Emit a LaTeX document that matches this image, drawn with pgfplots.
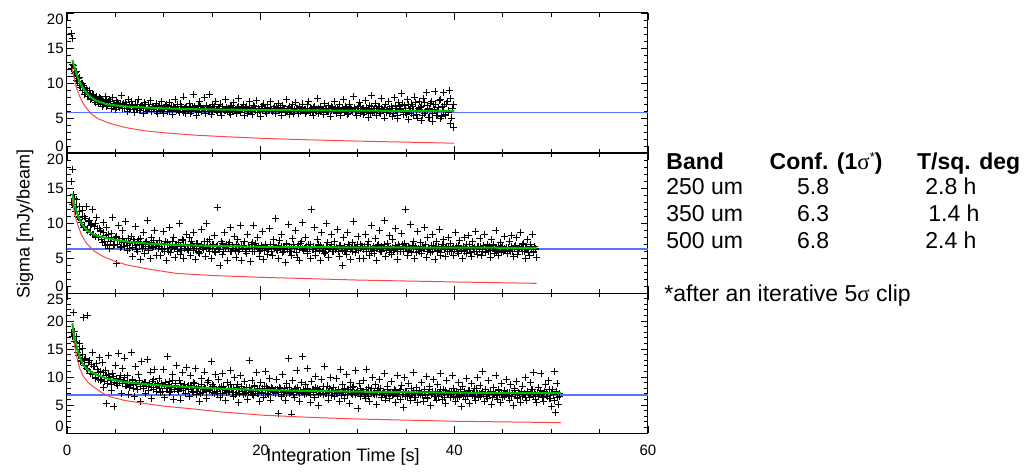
\documentclass[border=0pt]{standalone}
\usepackage{pgfplots}
\pgfplotsset{compat=1.18}
\usepackage{pgfplotstable}
\usepackage{fontspec}
\setmainfont{Liberation Sans}
\newfontfamily\seriffont{Liberation Serif}

\definecolor{fitgreen}{RGB}{0,190,0}
\definecolor{noisered}{RGB}{255,70,70}
\definecolor{confblue}{RGB}{85,115,255}

\pgfplotstableread{
x y1 y2 y3
0.45 17.1 16.0 nan
0.60 16.3 17.7 nan
0.50 12.1 13.0 17.9
0.65 12.5 14.1 21.6
0.80 11.0 12.2 16.3
0.95 11.6 13.3 17.2
1.10 10.2 10.9 14.4
1.25 10.8 12.4 16.0
1.40 9.3 10.1 12.8
1.55 9.9 11.8 15.1
1.70 9.6 9.4 20.6
1.85 8.4 11.0 13.2
2.00 9.2 12.3 11.5
2.15 8.1 8.9 21.0
2.30 8.9 10.4 12.9
2.45 7.6 9.6 10.6
2.60 8.4 11.9 14.3
2.75 8.3 8.3 11.8
2.90 7.2 9.9 9.7
3.05 8.1 10.8 12.4
3.20 7.0 7.9 10.9
3.35 7.9 9.2 13.5
3.50 7.8 8.8 9.4
3.65 6.7 7.2 12.6
3.80 7.4 10.1 8.2
3.95 8.1 6.8 11.1
4.10 6.6 9.3 5.3
4.25 7.3 7.9 13.8
4.40 7.6 6.3 9.9
4.55 6.4 8.5 7.6
4.70 7.9 10.8 10.7
4.85 6.8 7.0 4.8
5.00 6.2 8.0 12.1
5.15 7.5 4.2 8.8
5.30 7.1 9.6 14.2
5.45 6.5 7.5 9.2
5.60 8.2 6.6 7.1
5.75 6.9 8.9 11.5
5.90 6.3 7.3 13.4
6.05 7.2 10.2 8.4
6.20 5.9 6.1 10.2
6.35 7.6 7.8 6.9
6.50 6.2 6.4 8.1
6.65 7.3 8.1 14.4
6.80 6.8 5.2 9.6
6.95 5.8 7.4 6.6
7.10 7.0 9.5 11.9
7.25 6.4 6.0 7.8
7.40 7.7 7.7 10.4
7.55 6.1 4.8 5.6
7.70 6.6 6.9 12.8
7.85 5.7 8.6 8.7
8.00 7.2 5.6 9.1
8.15 6.9 7.2 7.0
8.30 6.0 10.3 13.2
8.45 6.5 6.3 8.3
8.60 7.5 5.0 10.9
8.75 5.9 7.9 6.2
8.90 6.7 6.7 9.5
9.05 6.3 9.0 11.4
9.20 7.1 5.4 7.4
9.35 5.6 7.1 8.9
9.50 6.8 7.5 9.8
9.65 6.1 5.3 7.2
9.80 7.4 6.4 8.6
9.95 5.6 8.8 11.3
10.10 6.5 6.0 6.4
10.25 6.9 4.6 8.0
10.40 5.9 7.2 13.6
10.55 7.2 9.4 9.2
10.70 6.3 5.8 7.5
10.85 5.5 6.6 10.5
11.00 6.7 8.0 6.0
11.15 7.6 5.1 8.8
11.30 6.0 7.0 12.1
11.45 6.4 6.2 7.7
11.60 5.8 9.9 9.4
11.75 7.0 5.5 5.9
11.90 6.2 7.6 10.8
12.05 8.0 4.9 8.2
12.20 5.7 6.8 7.0
12.35 6.6 8.3 11.7
12.50 6.0 6.1 8.4
12.65 7.1 7.9 6.6
12.80 5.6 5.4 10.2
12.95 6.5 6.8 7.5
13.10 8.3 8.7 9.0
13.25 6.2 4.8 11.6
13.40 5.4 7.1 6.9
13.55 6.8 6.0 8.2
13.70 7.4 5.6 5.6
13.85 5.9 9.1 9.7
14.00 6.3 6.5 7.3
14.15 7.9 7.4 10.9
14.30 5.7 5.2 8.0
14.45 6.6 10.0 6.2
14.60 6.0 6.3 9.3
14.75 8.4 7.7 7.8
14.90 5.5 4.9 12.7
15.05 6.9 6.9 8.6
15.20 6.2 8.2 7.0
15.35 7.3 5.8 10.4
15.50 5.8 12.2 7.1
15.65 6.4 6.2 9.5
15.80 7.0 3.9 6.3
15.95 5.3 7.3 8.3
16.10 6.7 5.5 10.7
16.25 6.1 8.6 7.7
16.40 7.6 6.7 5.8
16.55 5.9 4.7 9.0
16.70 6.3 7.0 7.4
16.85 5.5 9.3 11.2
17.00 6.8 5.9 8.0
17.15 7.2 6.4 6.5
17.30 6.0 8.1 9.9
17.45 5.6 5.1 7.2
17.60 6.5 7.6 8.6
17.75 7.8 6.0 5.5
17.90 5.8 9.7 10.3
18.05 6.2 4.6 7.9
18.20 6.9 6.8 6.8
18.35 5.4 7.4 9.2
18.50 6.6 5.7 8.1
18.65 5.7 8.4 6.0
18.80 7.3 6.3 12.9
18.95 6.0 4.5 7.6
19.10 5.5 7.2 9.4
19.25 6.8 9.6 6.7
19.40 6.3 5.9 8.5
19.55 7.5 6.7 10.8
19.70 5.8 7.9 7.1
19.85 6.1 5.2 5.7
20.00 5.2 6.1 9.1
20.15 6.7 8.8 7.9
20.30 7.0 4.8 6.4
20.45 6.4 7.0 11.0
20.60 5.6 6.4 8.3
20.75 6.9 5.5 7.0
20.90 6.0 9.2 9.8
21.05 7.4 6.9 5.9
21.20 5.9 5.3 8.0
21.35 6.3 7.6 7.4
21.50 5.7 10.6 7.8
21.65 6.5 6.2 9.6
21.80 7.1 5.0 3.5
21.95 6.0 7.5 8.2
22.10 5.4 8.3 6.6
22.25 6.8 5.8 10.4
22.40 6.2 6.6 7.3
22.55 5.8 4.4 5.8
22.70 7.6 7.1 8.9
22.85 6.4 9.8 13.3
23.00 5.5 6.0 7.0
23.15 6.1 5.4 3.4
23.30 6.9 7.8 9.3
23.45 5.9 6.5 6.4
23.60 7.2 8.9 8.0
23.75 6.3 5.1 11.1
23.90 5.6 6.9 7.5
24.05 6.6 4.7 5.6
24.20 6.0 7.3 9.0
24.35 7.0 10.1 13.7
24.50 6.2 6.4 6.9
24.65 5.6 8.0 8.7
24.80 6.9 5.6 11.6
24.95 7.4 7.0 7.2
25.10 5.8 4.9 5.4
25.25 6.3 12.0 9.2
25.40 5.3 6.2 7.7
25.55 6.7 9.4 6.3
25.70 6.0 5.3 10.1
25.85 7.8 7.7 8.0
26.00 5.7 6.8 4.9
26.15 6.5 4.6 7.5
26.30 6.1 8.6 9.6
26.45 5.5 6.0 6.8
26.60 7.1 5.7 11.9
26.75 6.4 9.9 7.1
26.90 5.9 7.2 8.4
27.05 6.8 5.1 5.9
27.20 5.2 6.5 9.9
27.35 6.6 8.3 7.4
27.50 6.0 5.9 8.2
27.65 7.3 7.4 6.5
27.80 5.7 6.3 9.8
27.95 6.4 9.1 7.0
28.10 6.9 5.2 5.7
28.25 5.4 6.8 11.3
28.40 6.2 3.9 8.6
28.55 7.7 7.9 7.4
28.70 5.8 6.1 6.1
28.85 6.5 5.5 10.5
29.00 5.5 8.7 7.8
29.15 7.0 6.6 5.3
29.30 6.3 4.8 9.1
29.45 5.9 7.2 6.9
29.60 8.1 10.2 8.3
29.75 6.1 5.8 11.2
29.90 5.3 6.4 7.2
30.05 6.7 8.1 4.4
30.20 7.2 5.0 8.9
30.35 5.6 7.0 6.6
30.50 6.4 6.7 7.5
30.65 5.5 4.9 9.4
30.80 7.5 8.4 6.2
30.95 6.0 6.0 11.4
31.10 5.1 7.3 8.1
31.25 6.8 5.4 5.6
31.40 8.2 9.6 7.3
31.55 5.8 6.3 10.0
31.70 6.3 5.7 6.8
31.85 7.1 7.8 8.7
32.00 5.4 4.6 5.1
32.15 6.6 6.9 7.9
32.30 5.9 8.9 9.6
32.45 7.8 5.9 6.4
32.60 6.2 6.4 7.1
32.75 5.0 10.3 10.6
32.90 6.9 5.2 5.9
33.05 6.1 7.1 8.4
33.20 7.4 6.6 7.0
33.35 5.6 8.2 6.1
33.50 6.7 5.5 9.2
33.65 5.2 7.6 6.7
33.80 7.9 6.2 7.8
33.95 6.0 9.2 5.4
34.10 4.9 4.8 10.3
34.25 7.2 6.9 7.2
34.40 6.4 5.9 6.0
34.55 8.5 8.5 8.5
34.70 5.5 6.4 4.6
34.85 6.8 7.1 9.9
35.00 5.8 11.9 7.4
35.15 7.6 5.3 6.5
35.30 4.8 6.7 8.8
35.45 6.3 9.8 5.8
35.60 7.0 5.8 7.0
35.75 5.4 7.4 10.8
35.90 8.0 4.9 6.3
36.05 6.1 6.3 8.1
36.20 5.0 8.8 5.5
36.35 7.3 6.0 7.6
36.50 6.5 7.2 6.8
36.65 4.7 5.6 9.0
36.80 7.8 6.5 5.7
36.95 5.6 9.4 7.7
37.10 8.6 5.1 10.1
37.25 6.2 7.9 6.2
37.40 5.1 6.2 8.3
37.55 7.1 5.8 4.9
37.70 4.5 8.3 7.4
37.85 6.9 6.8 9.5
38.00 8.8 4.8 6.6
38.15 5.4 7.4 5.9
38.30 6.0 6.0 8.6
38.45 7.5 9.1 7.1
38.60 4.9 5.4 10.7
38.75 6.6 6.9 6.0
38.90 8.7 7.7 7.8
39.05 5.3 5.2 5.2
39.20 7.0 6.6 9.3
39.35 5.8 8.0 6.9
39.50 8.9 5.9 7.5
39.65 4.2 7.1 6.3
39.80 6.4 6.4 10.3
39.95 3.6 5.3 8.0
40.10 nan 8.6 5.6
40.25 nan 6.7 7.2
40.40 nan 5.7 9.1
40.55 nan 7.5 6.5
40.70 nan 6.1 4.8
40.85 nan 4.9 8.4
41.00 nan 7.9 7.0
41.15 nan 6.3 6.0
41.30 nan 5.6 9.7
41.45 nan 8.2 7.6
41.60 nan 6.9 5.3
41.75 nan 5.2 8.8
41.90 nan 7.3 6.7
42.05 nan 6.0 7.9
42.20 nan 8.8 5.8
42.35 nan 5.5 10.0
42.50 nan 6.6 6.4
42.65 nan 7.8 8.5
42.80 nan 5.4 7.1
42.95 nan 6.2 11.0
43.10 nan 8.4 5.7
43.25 nan 5.8 7.8
43.40 nan 7.0 6.2
43.55 nan 6.4 9.4
43.70 nan 5.1 7.4
43.85 nan 7.6 5.1
44.00 nan 6.8 8.2
44.15 nan 5.6 6.8
44.30 nan 8.9 10.2
44.45 nan 6.1 6.0
44.60 nan 5.3 7.6
44.75 nan 7.2 5.4
44.90 nan 6.5 8.9
45.05 nan 5.9 7.0
45.20 nan 8.1 6.5
45.35 nan 6.3 9.6
45.50 nan 5.7 7.3
45.65 nan 7.4 5.9
45.80 nan 6.0 8.7
45.95 nan 8.2 6.6
46.10 nan 5.2 4.9
46.25 nan 6.7 7.9
46.40 nan 7.9 9.2
46.55 nan 5.5 6.1
46.70 nan 6.3 7.1
46.85 nan 8.6 5.5
47.00 nan 5.9 8.4
47.15 nan 7.1 6.9
47.30 nan 4.9 10.0
47.45 nan 6.5 5.8
47.60 nan 7.7 7.5
47.75 nan 5.4 6.3
47.90 nan 6.9 9.0
48.05 nan 8.3 7.7
48.20 nan 5.8 10.8
48.35 nan 6.2 6.0
48.50 nan 5.1 5.4
48.65 nan nan 8.1
48.80 nan nan 7.0
48.95 nan nan 10.6
49.10 nan nan 6.4
49.25 nan nan 5.6
49.40 nan nan 8.6
49.55 nan nan 7.2
49.70 nan nan 9.3
49.85 nan nan 6.1
50.00 nan nan 4.7
50.15 nan nan 7.8
50.30 nan nan 11.0
50.45 nan nan 3.6
50.60 nan nan 8.8
50.75 nan nan 5.1
50.90 nan nan 6.6
}\datatable

\pgfplotstableread{
x y1 y2 y3
0.575 12.6 12.6 17.2
0.725 11.4 13.5 18.1
0.875 11.5 11.6 15.4
1.025 10.3 12.4 16.2
1.175 10.6 10.8 13.9
1.325 9.6 11.7 15.0
1.475 9.9 10.1 12.9
1.625 8.9 11.0 14.1
1.775 9.3 9.5 12.1
1.925 8.6 10.6 13.4
2.075 8.9 9.1 11.3
2.225 8.1 10.2 12.6
2.375 8.5 8.7 10.7
2.525 7.8 9.8 12.2
2.675 8.2 8.4 10.4
2.825 7.5 9.5 11.8
2.975 7.9 8.1 10.0
3.125 7.3 9.2 11.4
3.275 7.7 7.9 9.6
3.425 7.1 8.9 11.0
3.575 7.6 7.7 9.6
3.725 6.9 8.6 10.8
3.875 7.2 7.4 9.2
4.025 7.5 8.2 10.3
4.175 6.8 7.0 8.9
4.325 7.0 8.4 10.5
4.475 7.3 7.3 9.4
4.625 6.6 7.9 8.7
4.775 7.1 6.8 10.1
4.925 6.9 7.6 9.0
5.075 6.5 8.1 9.8
5.225 7.2 6.9 8.5
5.375 6.7 7.5 9.5
5.525 7.0 6.5 10.2
5.675 6.4 7.8 8.8
5.825 7.1 7.2 9.3
5.975 6.6 6.7 9.9
6.125 6.9 7.4 8.4
6.275 6.3 6.8 9.1
6.425 6.8 7.1 8.6
6.575 6.5 7.2 8.5
6.725 6.9 6.5 9.4
6.875 6.2 7.6 8.0
7.025 6.7 6.8 9.1
7.175 6.4 6.2 8.6
7.325 7.0 7.3 7.7
7.475 6.1 6.9 9.3
7.625 6.6 7.8 8.3
7.775 6.8 6.4 8.8
7.925 6.3 7.0 7.9
8.075 6.5 6.7 9.0
8.225 6.0 7.4 8.4
8.375 6.9 6.1 7.6
8.525 6.4 6.9 8.9
8.675 6.2 7.2 8.2
8.825 6.7 6.5 9.2
8.975 6.3 7.5 7.8
9.125 6.6 6.6 8.7
9.275 5.9 7.0 8.1
9.425 6.5 6.3 8.5
9.575 6.3 6.6 8.0
9.725 6.6 7.1 8.8
9.875 6.0 6.2 7.5
10.025 6.5 6.9 8.4
10.175 6.8 7.4 9.1
10.325 6.2 6.4 7.9
10.475 6.4 6.0 8.6
10.625 5.9 7.0 7.3
10.775 6.7 6.5 8.2
10.925 6.1 7.3 9.3
11.075 6.5 6.3 7.7
11.225 6.3 6.8 8.5
11.375 6.9 5.9 8.0
11.525 6.0 7.2 7.4
11.675 6.4 6.6 8.9
11.825 6.6 6.1 8.1
11.975 5.8 7.5 7.6
12.125 6.3 6.4 8.7
12.275 6.5 6.9 7.9
12.425 6.1 6.2 8.3
12.575 6.2 6.3 7.7
12.725 6.5 6.9 8.5
12.875 5.9 7.3 8.1
13.025 6.4 6.1 7.3
13.175 6.7 6.7 8.8
13.325 6.1 6.4 7.9
13.475 6.3 7.1 7.5
13.625 5.8 5.8 8.3
13.775 6.6 6.6 7.0
13.925 6.2 7.0 8.6
14.075 6.4 6.2 7.8
14.225 6.0 6.8 8.2
14.375 6.8 6.5 7.4
14.525 6.3 7.4 9.0
14.675 5.9 6.0 7.6
14.825 6.5 6.7 8.0
14.975 6.1 6.3 7.2
15.125 6.4 6.9 8.4
15.275 6.7 5.9 7.9
15.425 6.0 6.6 7.5
15.575 6.1 6.8 7.4
15.725 6.4 6.2 8.1
15.875 5.9 6.6 7.8
16.025 6.6 7.1 7.1
16.175 6.2 6.0 8.4
16.325 6.0 6.5 7.6
16.475 6.5 6.9 7.2
16.625 6.3 6.3 8.0
16.775 5.8 7.2 7.5
16.925 6.7 5.9 8.6
17.075 6.1 6.7 7.3
17.225 6.4 6.4 7.9
17.375 6.2 6.1 6.9
17.525 5.9 7.0 8.2
17.675 6.6 6.6 7.7
17.825 6.0 6.2 7.0
17.975 6.3 6.8 8.3
18.125 6.5 6.4 7.4
18.275 6.1 7.3 7.8
18.425 6.4 6.0 7.1
18.575 6.3 6.2 7.8
18.725 6.0 6.7 7.2
18.875 6.5 6.4 8.1
19.025 5.9 6.9 7.5
19.175 6.2 6.0 6.9
19.325 6.6 6.5 8.3
19.475 6.1 7.1 7.4
19.625 5.8 6.3 7.7
19.775 6.4 6.6 7.0
19.925 6.2 5.9 8.0
20.075 6.7 6.8 7.3
20.225 6.0 6.4 7.6
20.375 6.3 6.1 8.4
20.525 5.9 7.0 7.1
20.675 6.5 6.5 7.9
20.825 6.1 6.2 6.8
20.975 6.4 6.7 7.5
21.125 6.0 6.0 8.2
21.275 6.2 6.9 7.3
21.425 6.6 6.4 7.6
21.575 6.0 6.5 7.1
21.725 6.3 6.1 7.7
21.875 6.1 6.8 7.3
22.025 6.5 6.3 8.0
22.175 5.8 6.6 6.8
22.325 6.2 5.9 7.5
22.475 6.4 6.4 7.9
22.625 5.9 7.0 7.0
22.775 6.1 6.2 7.6
22.925 6.6 6.7 8.2
23.075 6.0 6.0 7.2
23.225 6.3 6.5 7.4
23.375 5.7 6.9 6.9
23.525 6.2 6.3 7.8
23.675 6.4 5.8 7.3
23.825 6.0 6.6 8.1
23.975 6.5 6.2 7.0
24.125 5.9 7.1 7.6
24.275 6.2 6.4 7.2
24.425 6.1 6.1 7.7
24.575 6.2 6.3 7.6
24.725 5.9 6.7 7.0
24.875 6.4 6.0 7.9
25.025 6.0 6.5 7.3
25.175 6.3 6.9 6.8
25.325 5.8 6.2 7.7
25.475 6.5 6.6 7.2
25.625 6.1 5.9 8.1
25.775 5.9 6.4 7.4
25.925 6.3 7.0 6.9
26.075 6.0 6.1 7.8
26.225 6.6 6.8 7.1
26.375 6.2 6.3 7.5
26.525 5.8 6.5 8.3
26.675 6.4 5.8 7.0
26.825 6.1 6.7 7.6
26.975 5.9 6.2 7.2
27.125 6.3 6.4 7.9
27.275 6.0 6.9 6.7
27.425 6.5 6.0 7.4
27.575 6.1 6.6 7.1
27.725 6.4 6.2 7.6
27.875 5.8 6.5 7.0
28.025 6.2 6.0 7.8
28.175 6.5 6.8 7.3
28.325 6.0 6.3 6.7
28.475 6.3 6.1 7.5
28.625 5.9 6.7 8.0
28.775 6.6 5.9 7.2
28.925 6.1 6.4 6.9
29.075 5.7 6.9 7.7
29.225 6.4 6.2 7.4
29.375 6.2 6.5 7.0
29.525 6.0 6.0 8.1
29.675 6.5 6.6 7.3
29.825 5.9 6.3 6.8
29.975 6.3 7.0 7.6
30.125 6.1 6.1 7.1
30.275 6.7 6.4 7.9
30.425 6.0 6.7 7.2
30.575 6.3 6.2 7.4
30.725 5.8 6.6 6.9
30.875 6.5 6.0 7.7
31.025 6.0 6.9 7.1
31.175 6.2 6.3 6.6
31.325 5.7 6.5 7.5
31.475 6.6 5.9 7.9
31.625 6.1 6.7 7.0
31.775 5.9 6.1 7.3
31.925 6.4 6.4 6.8
32.075 6.0 6.8 7.6
32.225 6.7 6.2 7.2
32.375 5.6 6.0 8.0
32.525 6.3 6.6 6.9
32.675 6.1 6.3 7.4
32.825 6.5 7.0 7.1
32.975 5.8 6.1 6.7
33.125 6.2 6.5 7.8
33.275 6.4 5.8 7.2
33.425 5.9 6.4 7.0
33.575 6.4 6.5 7.3
33.725 5.6 6.1 6.8
33.875 6.8 6.8 7.6
34.025 6.0 6.3 7.0
34.175 5.4 6.0 6.5
34.325 6.6 6.6 7.4
34.475 6.2 6.2 7.8
34.625 7.0 6.9 6.9
34.775 5.8 5.9 7.2
34.925 6.3 6.4 6.6
35.075 5.5 6.7 7.5
35.225 6.9 6.1 7.1
35.375 6.1 6.5 6.7
35.525 5.7 6.0 7.9
35.675 6.7 6.8 7.0
35.825 6.0 6.3 7.3
35.975 7.2 6.6 6.4
36.125 5.5 5.8 7.6
36.275 6.4 6.4 7.0
36.425 6.2 6.2 7.2
36.575 6.6 6.1 7.2
36.725 5.3 6.6 6.7
36.875 7.2 6.3 7.5
37.025 5.9 6.9 6.9
37.175 6.8 5.9 6.4
37.325 5.1 6.5 7.3
37.475 6.4 6.2 7.7
37.625 7.4 6.8 6.8
37.775 5.6 6.0 7.1
37.925 6.2 6.4 6.5
38.075 7.0 6.7 7.4
38.225 5.4 6.1 7.0
38.375 6.5 6.6 6.6
38.525 7.6 5.8 7.8
38.675 5.2 6.3 6.9
38.825 6.1 6.9 7.2
38.975 6.9 6.2 6.3
39.125 5.5 6.5 7.6
39.275 7.3 6.0 7.0
39.425 6.0 6.7 6.8
39.575 7.8 6.4 6.8
39.725 5.0 6.0 7.3
39.875 6.9 6.7 6.6
40.025 nan 6.2 7.5
40.175 nan 6.5 7.0
40.325 nan 5.9 6.4
40.475 nan 6.8 7.2
40.625 nan 6.3 7.7
40.775 nan 6.1 6.9
40.925 nan 6.6 6.7
41.075 nan 6.0 7.4
41.225 nan 6.9 7.1
41.375 nan 6.2 6.5
41.525 nan 6.4 7.6
41.675 nan 5.8 7.0
41.825 nan 6.7 6.8
41.975 nan 6.3 7.3
42.125 nan 6.5 6.6
42.275 nan 6.0 7.9
42.425 nan 6.6 7.1
42.575 nan 6.2 7.1
42.725 nan 6.6 6.6
42.875 nan 6.0 7.4
43.025 nan 6.8 6.9
43.175 nan 6.3 7.7
43.325 nan 6.5 6.5
43.475 nan 5.9 7.2
43.625 nan 6.7 6.8
43.775 nan 6.1 7.5
43.925 nan 6.4 6.3
44.075 nan 6.9 7.0
44.225 nan 6.2 7.3
44.375 nan 6.0 6.7
44.525 nan 6.6 7.8
44.675 nan 6.3 6.9
44.825 nan 5.8 7.1
44.975 nan 6.7 6.4
45.125 nan 6.4 7.6
45.275 nan 6.1 7.0
45.425 nan 6.5 6.8
45.575 nan 6.5 6.7
45.725 nan 6.1 7.3
45.875 nan 6.7 6.5
46.025 nan 6.0 7.0
46.175 nan 6.4 7.6
46.325 nan 6.8 6.8
46.475 nan 6.2 6.4
46.625 nan 5.9 7.2
46.775 nan 6.6 6.9
46.925 nan 6.3 7.5
47.075 nan 6.9 6.6
47.225 nan 6.0 7.1
47.375 nan 6.5 6.3
47.525 nan 6.2 7.4
47.675 nan 5.8 6.8
47.825 nan 6.7 7.0
47.975 nan 6.4 7.7
48.125 nan 6.0 6.6
48.275 nan 6.6 7.2
48.425 nan 6.3 6.9
48.575 nan nan 7.2
48.725 nan nan 6.5
48.875 nan nan 7.6
49.025 nan nan 6.8
49.175 nan nan 6.3
49.325 nan nan 7.4
49.475 nan nan 7.0
49.625 nan nan 6.6
49.775 nan nan 7.8
49.925 nan nan 6.2
50.075 nan nan 7.3
50.225 nan nan 6.9
50.375 nan nan 5.8
50.525 nan nan 7.5
50.675 nan nan 6.4
50.825 nan nan 7.1
}\datatableb

\pgfplotsset{
  panel/.style={
    scale only axis, width=290.5pt, height=70pt,
    anchor=north west,
    xmin=0, xmax=60, xtick={0,20,40,60}, minor x tick num=3,
    minor y tick num=4,
    tick align=inside,
    major tick length=3.5pt, minor tick length=2pt,
    axis line style={line width=0.5pt},
    every tick/.style={black, line width=0.4pt},
    tick label style={font=\fontsize{7.5}{9}\selectfont, black},
    yticklabel style={inner sep=1.5pt},
    xticklabel style={yshift=-2.5pt},
    /pgf/number format/assume math mode=true,
    clip marker paths=true,
  },
  dat/.style={only marks, mark=+, mark size=1.75pt, black, mark options={line width=0.45pt}},
  conf/.style={confblue, line width=0.6pt},
  inst/.style={noisered, line width=0.5pt},
  fit/.style={fitgreen, line width=1pt},
}

\begin{document}
\begin{tikzpicture}[x=1pt,y=1pt]
\useasboundingbox (0,0) rectangle (512,236);

% 250 um
\begin{axis}[panel, at={(33.5pt,229.5pt)}, ymin=0, ymax=20, ytick={0,5,10,15,20},
  yticklabels={{\raisebox{0.8pt}[0pt][0pt]{0}},5,10,15,{\raisebox{-5.7pt}[0pt][0pt]{20}}},
  xticklabels={}]
\addplot[conf] coordinates {(0,5.8) (60,5.8)};
\addplot[dat] table[x=x, y=y1] {\datatable};
\addplot[dat] table[x=x, y=y1] {\datatableb};
\addplot[inst] coordinates {(0.55,12.1)(0.7,11.0)(0.85,10.0)(1.0,9.2)(1.34,8.0)(1.7,7.0)(2.4,5.7)(3.2,4.9)(4.4,4.24)(6,3.65)(7.9,3.19)(10,2.9)(13,2.57)(16,2.35)(20,2.1)(25,1.88)(30,1.7)(35,1.55)(40,1.4)};
\addplot[fit] coordinates {(0.55,13.3)(0.7,12.6)(0.85,11.9)(1.0,11.2)(1.2,10.5)(1.5,9.6)(2.0,8.6)(2.5,7.9)(3.0,7.5)(4.0,7.0)(5.0,6.8)(6.5,6.6)(8,6.5)(10,6.38)(13,6.26)(16,6.2)(20,6.14)(25,6.09)(30,6.05)(35,6.02)(40,6.0)};
\end{axis}

% 350 um
\begin{axis}[panel, at={(33.5pt,159.5pt)}, ymin=0, ymax=20, ytick={0,5,10,15,20},
  yticklabels={{\raisebox{0.8pt}[0pt][0pt]{0}},5,10,15,{\raisebox{-5.7pt}[0pt][0pt]{20}}},
  xticklabels={}]
\addplot[conf] coordinates {(0,6.3) (60,6.3)};
\addplot[dat] table[x=x, y=y2] {\datatable};
\addplot[dat] table[x=x, y=y2] {\datatableb};
\addplot[inst] coordinates {(0.55,13.3)(0.8,11.2)(1.17,9.5)(1.5,8.3)(2.0,7.1)(2.8,6.0)(3.75,5.2)(5,4.5)(6.2,4.0)(8.5,3.4)(11.3,2.8)(15,2.5)(20,2.24)(25,2.05)(30,1.85)(40,1.58)(48.5,1.38)};
\addplot[fit] coordinates {(0.55,14.2)(0.8,12.4)(1.17,10.9)(1.5,9.9)(2.0,9.0)(2.8,8.3)(3.75,7.95)(5,7.6)(6.2,7.33)(8.5,7.05)(11.3,6.86)(15,6.72)(20,6.6)(25,6.55)(30,6.52)(40,6.48)(48.5,6.45)};
\end{axis}

% 500 um
\begin{axis}[panel, at={(33.5pt,89.5pt)}, ymin=0, ymax=25, ytick={0,5,10,15,20,25},
  yticklabels={{\raisebox{0.8pt}[0pt][0pt]{0}},5,10,15,20,{\raisebox{-5.7pt}[0pt][0pt]{25}}},
  xlabel={Integration Time [s]},
  xlabel style={at={(rel axis cs:0.475,0)}, anchor=center, yshift=-12pt, font=\fontsize{9}{11}\selectfont}]
\addplot[conf] coordinates {(0,6.8) (60,6.8)};
\addplot[dat] table[x=x, y=y3] {\datatable};
\addplot[dat] table[x=x, y=y3] {\datatableb};
\addplot[inst] coordinates {(0.55,19.0)(0.75,16.0)(1.0,13.6)(1.3,11.6)(1.7,10.1)(2.2,9.0)(2.7,8.3)(3.5,7.3)(4.4,6.5)(6,5.8)(7.9,5.3)(10,4.8)(13,4.3)(16,3.75)(20,3.2)(25,2.8)(30,2.5)(40,2.1)(51,1.85)};
\addplot[fit] coordinates {(0.55,19.6)(0.75,17.3)(1.0,15.4)(1.3,13.6)(1.7,12.1)(2.2,11.2)(2.7,10.7)(3.5,10.1)(4.4,9.6)(6,9.1)(7.9,8.75)(10,8.45)(13,8.15)(16,7.9)(20,7.7)(25,7.5)(30,7.38)(40,7.2)(51,7.1)};
\end{axis}

\node[rotate=90, font=\fontsize{9}{11}\selectfont] at (12.5,124) {Sigma [mJy/beam]};

\begin{scope}[every node/.style={anchor=base west, inner sep=0pt, font=\fontsize{11.5}{13}\selectfont}]
\node[font=\fontsize{11.5}{13}\selectfont\bfseries] at (333,151.35) {Band};
\node[font=\fontsize{11.5}{13}\selectfont\bfseries] at (384.65,151.35) {Conf. (1{\seriffont\mdseries σ}\raisebox{0.35em}{\fontsize{6.5}{7}\selectfont\mdseries *})};
\node[font=\fontsize{11.5}{13}\selectfont\bfseries] at (458.35,151.35) {T/sq. deg};
\node at (333,138.5) {250 um};
\node at (398.35,138.5) {5.8};
\node at (462.5,138.5) {2.8 h};
\node at (333,125.15) {350 um};
\node at (398.35,125.15) {6.3};
\node at (464,125.15) {1.4 h};
\node at (333,111.85) {500 um};
\node at (398.35,111.85) {6.8};
\node at (462.5,111.85) {2.4 h};
\node at (332,85.15) {*after an iterative 5{\seriffont σ} clip};
\end{scope}
\end{tikzpicture}
\end{document}
